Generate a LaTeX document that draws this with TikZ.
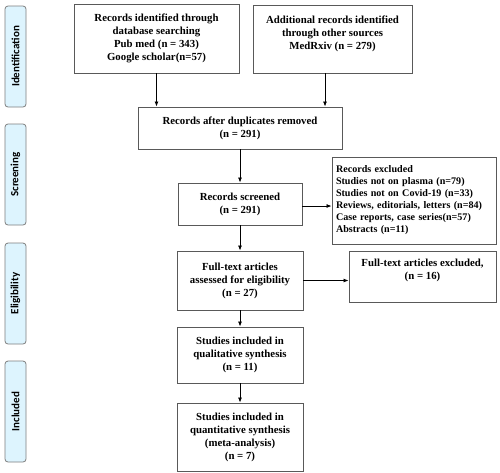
\documentclass[tikz,border=0pt]{standalone}
\usepackage{fontspec}
\setmainfont{Liberation Serif}
\newfontfamily\sidefont{Carlito}
\usetikzlibrary{arrows.meta}
\definecolor{sidefill}{HTML}{DDF4FE}
\definecolor{sideborder}{HTML}{7F7F7F}
\definecolor{boxborder}{HTML}{595959}
\begin{document}
\begin{tikzpicture}[x=1pt,y=-1pt,
  boxtext/.style={align=center,font=\bfseries\fontsize{10.8}{13}\selectfont,inner sep=2pt},
  flowbox/.style={draw=boxborder,line width=0.9pt,fill=white,boxtext},
  sidebox/.style={draw=sideborder,fill=sidefill,line width=0.8pt,rounded corners=3pt,
    minimum width=21pt,minimum height=101pt,inner sep=0pt},
  sidetext/.style={rotate=90,font=\sidefont\bfseries\fontsize{11}{12}\selectfont},
  arr/.style={-{Latex[length=5pt,width=4pt]},line width=0.8pt,black}]
\useasboundingbox (0,0) rectangle (500,472);
\fill[white] (0,0) rectangle (500,472);

% side labels
\node[sidebox] (sid) at (15.5,56.5) {};
\node[sidetext] (sidt) at (sid.center) {Identification};
\node[sidebox] (sscr) at (15.5,174.5) {};
\node[sidetext] (sscrt) at (sscr.center) {Screening};
\node[sidebox] (sel) at (15.5,293.5) {};
\node[sidetext] (selt) at (sel.center) {Eligibility};
\node[sidebox] (sinc) at (15.5,411.5) {};
\node[sidetext] (sinct) at (sinc.center) {Included};

% boxes
\node[flowbox,minimum width=165pt,minimum height=69pt] (b1) at (156.5,38.5)
  {Records identified through\\database searching\\Pub med (n = 343)\\Google scholar(n=57)};
\node[flowbox,minimum width=159pt,minimum height=68pt] (b2) at (332.5,39) {};
\node[boxtext] (b2t) at (332.5,33.5)
  {Additional records identified\\through other sources\\MedRxiv (n = 279)};
\node[flowbox,minimum width=204pt,minimum height=42pt] (b3) at (240,128)
  {Records after duplicates removed\\(n = 291)};
\node[flowbox,minimum width=124pt,minimum height=42pt] (b4) at (240,204)
  {Records screened\\(n = 291)};
\node[flowbox,minimum width=164pt,minimum height=87pt,align=left,text width=156pt,
  font=\bfseries\fontsize{10.1}{12}\selectfont] (ex) at (414,200.5)
  {Records excluded\\Studies not on plasma (n=79)\\Studies not on Covid-19 (n=33)\\Reviews, editorials, letters (n=84)\\Case reports, case series(n=57)\\Abstracts (n=11)};
\node[flowbox,minimum width=126pt,minimum height=59pt] (b5) at (240,280.5)
  {Full-text articles\\assessed for eligibility\\(n = 27)};
\node[flowbox,minimum width=147pt,minimum height=51pt] (b6) at (422.5,276.5) {};
\node[boxtext] (b6t) at (422.5,270.5)
  {Full-text articles excluded,\\(n = 16)};
\node[flowbox,minimum width=126pt,minimum height=56pt] (b7) at (240,355)
  {Studies included in\\qualitative synthesis\\(n = 11)};
\node[flowbox,minimum width=126pt,minimum height=68pt] (b8) at (240,437)
  {Studies included in\\quantitative synthesis\\(meta-analysis)\\(n = 7)};

% connectors
\coordinate (c2) at (325,0);
\draw[arr] (b1.south) -- (b1.south |- b3.north);
\draw[arr] (b2.south -| c2) -- (b3.north -| c2);
\draw[arr] (b3.south) -- (b4.north);
\draw[arr] ([yshift=-2pt]b4.east) -- ([yshift=-2pt]b4.east -| ex.west);
\draw[arr] (b4.south) -- (b5.north);
\draw[arr] (b5.east) -- (b5.east -| b6.west);
\draw[arr] (b5.south) -- (b7.north);
\draw[arr] (b7.south) -- (b8.north);
\end{tikzpicture}
\end{document}
